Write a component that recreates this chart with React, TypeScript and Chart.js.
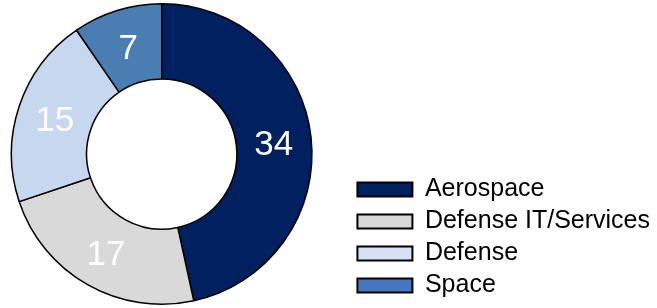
import React, { useEffect, useRef } from "react";
import { Chart, registerables } from "chart.js";

Chart.register(...registerables);

const categories = ["Aerospace", "Defense IT/Services", "Defense", "Space"];
const values = [34, 17, 15, 7];

const sliceColors = ["#002060", "#D9D9D9", "#C6D7EE", "#4A7EB3"];
const legendColors = ["#002060", "#D9D9D9", "#D6E2F3", "#4676BF"];
const FONT = "'Liberation Sans', Arial, sans-serif";

const labelPlugin = {
  id: "sliceLabels",
  afterDatasetsDraw(chart: any) {
    const { ctx } = chart;
    const meta = chart.getDatasetMeta(0);
    ctx.save();
    ctx.fillStyle = "#FFFFFF";
    ctx.font = `35px ${FONT}`;
    ctx.textAlign = "center";
    ctx.textBaseline = "middle";
    meta.data.forEach((arc: any, i: number) => {
      const p = arc.tooltipPosition();
      ctx.fillText(String(chart.data.datasets[0].data[i]), p.x, p.y + 3);
    });
    ctx.restore();
  },
};

export default function App() {
  const ref = useRef<HTMLCanvasElement>(null);
  useEffect(() => {
    const chart = new Chart(ref.current!, {
      type: "doughnut",
      data: {
        labels: categories,
        datasets: [
          {
            data: values,
            backgroundColor: sliceColors,
            borderColor: "#000000",
            borderWidth: 1.5,
            borderAlign: "center",
          },
        ],
      },
      options: {
        animation: false,
        responsive: true,
        maintainAspectRatio: false,
        cutout: "50%",
        layout: { padding: { top: 3, bottom: 3, left: 0, right: 0 } },
        plugins: {
          tooltip: { enabled: false },
          legend: {
            position: "right",
            align: "end",
            labels: {
              boxWidth: 55,
              boxHeight: 14,
              padding: 7,
              color: "#000000",
              font: { size: 25, family: FONT },
              generateLabels: (c: any) =>
                categories.map((t, i) => ({
                  text: t,
                  fillStyle: legendColors[i],
                  strokeStyle: "#000000",
                  lineWidth: 2,
                  hidden: false,
                  index: i,
                  datasetIndex: 0,
                })),
            },
          },
        },
      },
      plugins: [labelPlugin],
    });
    return () => chart.destroy();
  }, []);
  return (
    <div
      style={{
        position: "fixed",
        left: 0,
        top: 0,
        width: 657,
        height: 308,
        overflow: "hidden",
        background: "#FFFFFF",
      }}
    >
      <div style={{ position: "absolute", left: -27, top: 0, width: 687, height: 308 }}>
        <canvas ref={ref} />
      </div>
    </div>
  );
}
